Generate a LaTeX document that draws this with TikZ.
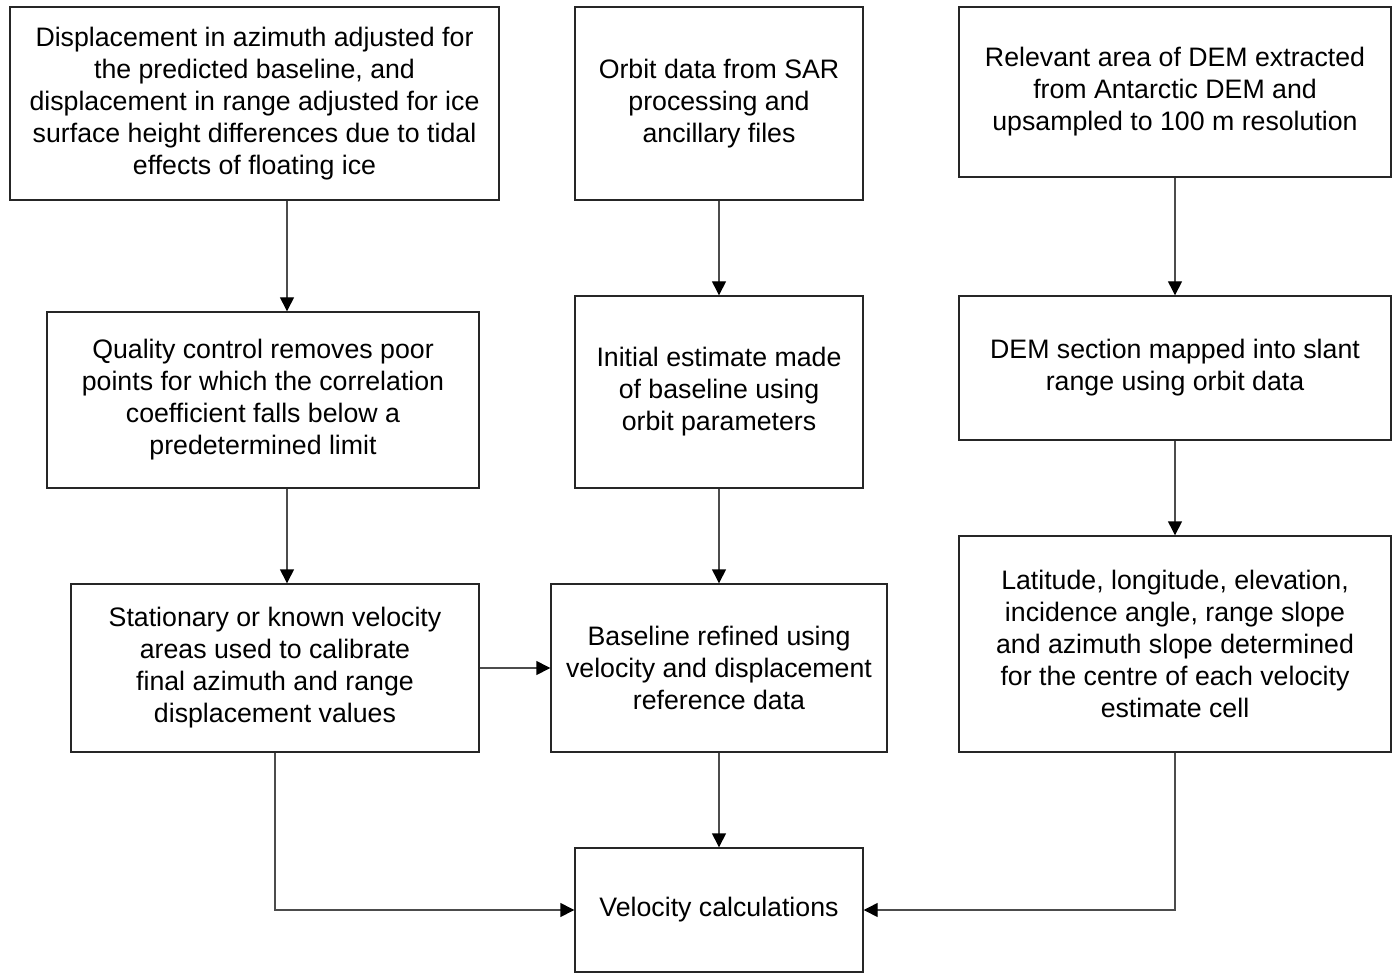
\documentclass[tikz,border=0pt]{standalone}
\usepackage{fontspec}
\setmainfont{Liberation Sans}
\usetikzlibrary{arrows.meta}
\begin{document}
\begin{tikzpicture}[x=0.2mm,y=-0.2mm,
  box/.style={draw=black!85,line width=0.8pt,align=center,inner sep=0pt,
    font=\fontsize{15.2pt}{18.2pt}\selectfont},
  arr/.style={draw=black!70,line width=0.8pt,
    -{Triangle[length=2.8mm,width=2.8mm,color=black]}}]
\useasboundingbox (0,0) rectangle (1399,973);
% left column
\node[box,minimum width=97.8mm,minimum height=38.6mm] (disp) at (254.5,103.5)
  {Displacement in azimuth adjusted for\\the predicted baseline, and\\displacement in range adjusted for ice\\surface height differences due to tidal\\effects of floating ice};
\node[box,minimum width=86.4mm,minimum height=35.2mm] (qc) at (263,400)
  {Quality control removes poor\\points for which the correlation\\coefficient falls below a\\predetermined limit};
\node[box,minimum width=81.6mm,minimum height=33.6mm] (calib) at (275,668)
  {Stationary or known velocity\\areas used to calibrate\\final azimuth and range\\displacement values};
% middle column
\node[box,minimum width=57.6mm,minimum height=38.6mm] (orbit) at (719,103.5)
  {Orbit data from SAR\\processing and\\ancillary files};
\node[box,minimum width=57.6mm,minimum height=38.4mm] (initial) at (719,392)
  {Initial estimate made\\of baseline using\\orbit parameters};
\node[box,minimum width=67.2mm,minimum height=33.6mm] (refined) at (719,668)
  {Baseline refined using\\velocity and displacement\\reference data};
\node[box,minimum width=57.6mm,minimum height=24.8mm] (velocity) at (719,910)
  {Velocity calculations};
% right column
\node[box,minimum width=86.4mm,minimum height=34mm] (dem) at (1175,92)
  {Relevant area of DEM extracted\\from Antarctic DEM and\\upsampled to 100 m resolution};
\node[box,minimum width=86.4mm,minimum height=28.8mm] (slant) at (1175,368)
  {DEM section mapped into slant\\range using orbit data};
\node[box,minimum width=86.4mm,minimum height=43.2mm] (latlon) at (1175,644)
  {Latitude, longitude, elevation,\\incidence angle, range slope\\and azimuth slope determined\\for the centre of each velocity\\estimate cell};
% connectors
\coordinate (lcol) at (287,0);
\draw[arr] (disp.south -| lcol) -- (qc.north -| lcol);
\draw[arr] (qc.south -| lcol) -- (calib.north -| lcol);
\draw[arr] (calib.east) -- (refined.west);
\draw[arr] (calib.south) |- (velocity.west);
\draw[arr] (orbit) -- (initial);
\draw[arr] (initial) -- (refined);
\draw[arr] (refined) -- (velocity);
\draw[arr] (dem) -- (slant);
\draw[arr] (slant) -- (latlon);
\draw[arr] (latlon.south) |- (velocity.east);
\end{tikzpicture}
\end{document}
